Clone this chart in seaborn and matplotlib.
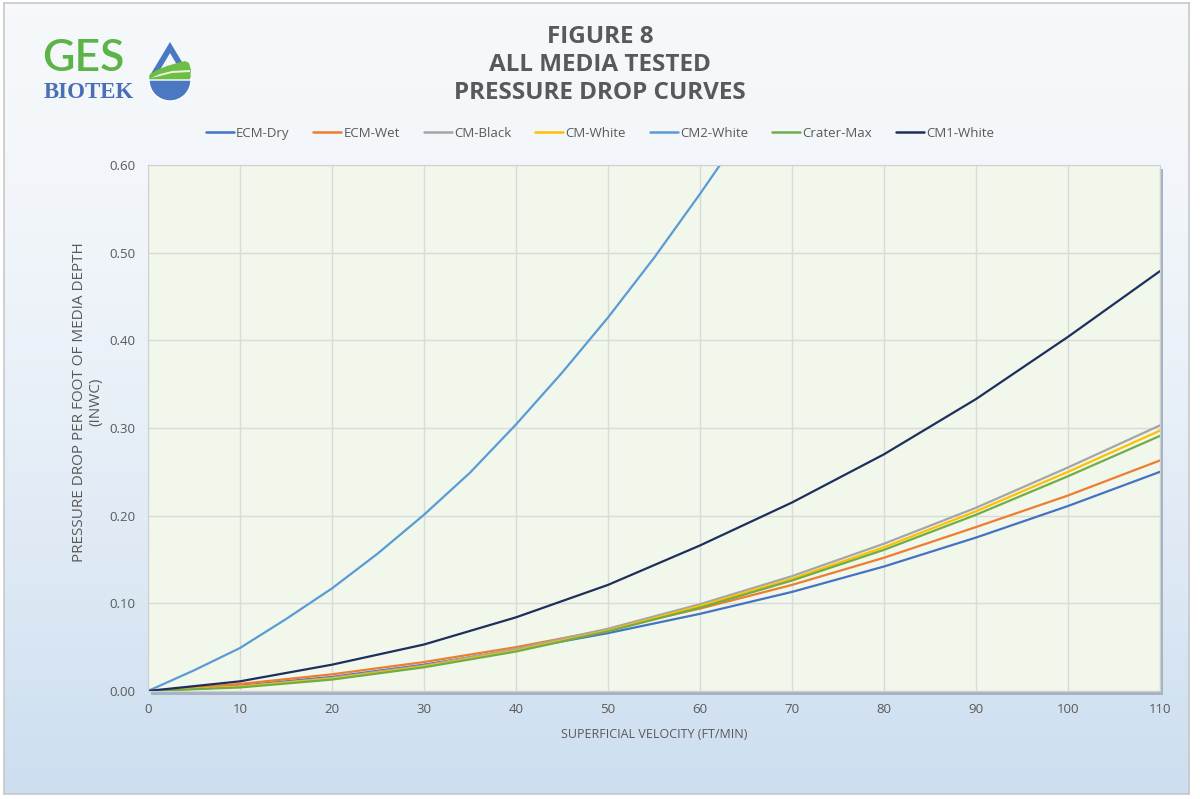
import numpy as np
import pandas as pd
import matplotlib
matplotlib.use("Agg")
import matplotlib.pyplot as plt
from matplotlib.patches import Polygon, Wedge
from matplotlib.lines import Line2D
import seaborn as sns

# ---- data ----
velocity = [0, 10, 20, 30, 40, 50, 60, 70, 80, 90, 100, 110]
velocity_cm2 = [0, 5, 10, 15, 20, 25, 30, 35, 40, 45, 50, 55, 60, 62.5]
ecm_dry = [0.0, 0.006, 0.016, 0.030, 0.047, 0.066, 0.088, 0.113, 0.142, 0.175, 0.211, 0.250]
ecm_wet = [0.0, 0.008, 0.019, 0.033, 0.050, 0.070, 0.094, 0.121, 0.152, 0.187, 0.223, 0.263]
cm_black = [0.0, 0.005, 0.015, 0.029, 0.048, 0.071, 0.099, 0.131, 0.168, 0.209, 0.255, 0.303]
cm_white = [0.0, 0.005, 0.014, 0.028, 0.046, 0.069, 0.097, 0.128, 0.164, 0.205, 0.250, 0.297]
cm2_white = [0.0, 0.0235, 0.049, 0.082, 0.117, 0.157, 0.201, 0.249, 0.304, 0.363, 0.426, 0.494, 0.567, 0.605]
crater_max = [0.0, 0.004, 0.013, 0.027, 0.045, 0.068, 0.095, 0.126, 0.161, 0.201, 0.245, 0.291]
cm1_white = [0.0, 0.011, 0.030, 0.053, 0.084, 0.121, 0.166, 0.215, 0.270, 0.333, 0.404, 0.479]

series_names = ["ECM-Dry", "ECM-Wet", "CM-Black", "CM-White", "CM2-White", "Crater-Max", "CM1-White"]
series_x = [velocity, velocity, velocity, velocity, velocity_cm2, velocity, velocity]
series_values = [ecm_dry, ecm_wet, cm_black, cm_white, cm2_white, crater_max, cm1_white]
colors = ["#4472C4", "#ED7D31", "#A5A5A5", "#FFC000", "#5B9BD5", "#70AD47", "#1F2F5C"]
x_ticks = [0, 10, 20, 30, 40, 50, 60, 70, 80, 90, 100, 110]
y_ticks = [0.0, 0.1, 0.2, 0.3, 0.4, 0.5, 0.6]

rows = []
for name, xs, vals in zip(series_names, series_x, series_values):
    for v, p in zip(xs, vals):
        rows.append({"velocity": v, "pressure": p, "media": name})
df = pd.DataFrame(rows)

sns.set_style("white")
plt.rcParams['font.family'] = ['Open Sans', 'DejaVu Sans']
grey = "#595959"

fig = plt.figure(figsize=(12, 7.99), dpi=100)
fig.patch.set_facecolor("white")

# background gradient panel
bg = fig.add_axes([0.003, 0.006, 0.988, 0.99], zorder=0)
grad = np.linspace(0, 1, 256).reshape(-1, 1)
top = np.array([0.965, 0.975, 0.985])
bot = np.array([0.80, 0.87, 0.94])
g = grad[:, :, None] ** 1.6
img = top[None, None, :] * (1 - g) + bot[None, None, :] * g
bg.imshow(img, aspect="auto", extent=[0, 1, 0, 1], origin="upper")
bg.set_xlim(0, 1)
bg.set_ylim(0, 1)
for s in bg.spines.values():
    s.set_edgecolor("#c8c8c8")
    s.set_linewidth(1.2)
bg.set_xticks([])
bg.set_yticks([])

# plot area shadow
ax_rect = [0.1233, 0.1352, 0.8434, 0.6583]
sh = fig.add_axes([ax_rect[0] + 0.0025, ax_rect[1] - 0.0045, ax_rect[2], ax_rect[3]], zorder=1)
sh.set_facecolor("#a7b3c2")
sh.set_xticks([])
sh.set_yticks([])
for s in sh.spines.values():
    s.set_visible(False)

ax = fig.add_axes(ax_rect, zorder=2)
ax.set_facecolor("#F1F7EB")
sns.lineplot(data=df, x="velocity", y="pressure", hue="media", hue_order=series_names,
             palette=dict(zip(series_names, colors)), linewidth=1.6, ax=ax, legend=False,
             estimator=None, sort=True)
ax.set_xlim(0, 110)
ax.set_ylim(0, 0.6)
ax.set_xticks(x_ticks)
ax.set_yticks(y_ticks)
ax.set_xticklabels([str(t) for t in x_ticks])
ax.set_yticklabels([f"{t:.2f}" for t in y_ticks])
ax.grid(True, color="#D9D9D9", linewidth=1.0)
ax.set_axisbelow(True)
for s in ax.spines.values():
    s.set_edgecolor("#D0D0D0")
    s.set_linewidth(0.8)
ax.tick_params(axis="both", length=0, labelsize=9.5, labelcolor=grey, pad=9)
ax.set_xlabel("SUPERFICIAL VELOCITY (FT/MIN)", fontsize=9, color=grey, labelpad=8)
ax.set_ylabel("PRESSURE DROP PER FOOT OF MEDIA DEPTH\n(INWC)", fontsize=11, color=grey,
              linespacing=1.1)
ax.yaxis.set_label_coords(-0.0445, 0.55)

# legend
handles = [Line2D([0], [0], color=c, linewidth=1.8) for c in colors]
fig.legend(handles, series_names, loc="center", bbox_to_anchor=(0.5, 0.8335), ncol=7,
           frameon=False, fontsize=9.5, labelcolor=grey, handlelength=2.1, handletextpad=0.2,
           columnspacing=1.8)

# title
fig.text(0.5, 0.919, "FIGURE 8\nALL MEDIA TESTED\nPRESSURE DROP CURVES", ha="center", va="center",
         fontsize=17.5, fontweight="bold", color=grey, linespacing=1.22)

# logo text
fig.text(0.035, 1 - 71 / 799, "GES", fontsize=32, color="#5DB446", ha="left", va="baseline",
         fontfamily="Lato", fontweight="semibold")
fig.text(0.0365, 1 - 98 / 799, "BIOTEK", fontsize=16.5, fontweight="bold", color="#4A6FB5",
         ha="left", va="baseline", fontfamily="Liberation Serif")

# logo drop icon, drawn in pixel units
lg = fig.add_axes([140 / 1200, 1 - 102 / 799, 60 / 1200, 64 / 799], zorder=3)
lg.set_xlim(140, 200)
lg.set_ylim(102, 38)
lg.axis("off")
blue = "#4A78C2"
lg.add_patch(Polygon([(170, 42), (149, 77), (191, 77)], closed=True, facecolor=blue, edgecolor="none"))
lg.add_patch(Polygon([(170, 53), (157, 75), (183, 75)], closed=True, facecolor="#F3F7FA", edgecolor="none"))
lg.add_patch(Polygon([(149, 80), (150, 74), (157, 70), (167, 66), (177, 63), (185, 61), (189, 63),
                      (191, 70), (190, 80)], closed=True, facecolor="#6CBE45", edgecolor="none"))
lg.add_patch(Polygon([(151, 78), (160, 74), (172, 71), (190, 70), (190, 72), (172, 73), (160, 76)],
                     closed=True, facecolor="#E8F3E0", edgecolor="none"))
lg.add_patch(Wedge((170, 80), 21, 0, 180, facecolor=blue, edgecolor="white", linewidth=1.0))

fig.savefig("out.png", dpi=100)
